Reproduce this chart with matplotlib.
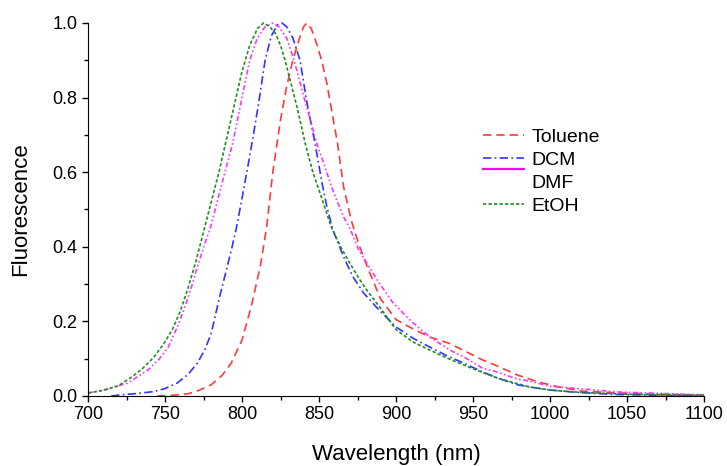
import matplotlib
matplotlib.use("Agg")
import matplotlib.pyplot as plt
from matplotlib.lines import Line2D
from matplotlib.legend_handler import HandlerLine2D
from matplotlib.ticker import MultipleLocator

plt.rcParams.update({'font.family': ['Liberation Sans', 'DejaVu Sans']})

# emission spectra (wavelength in nm, normalised intensity)
tol_x = [745, 755, 765, 772, 780, 787, 793, 800, 806, 812, 816, 820, 825, 829, 833, 837, 840, 842,
         845, 848, 851.7, 855, 862, 866, 871, 876, 881, 890, 900, 911, 922, 934, 945, 956, 966, 979,
         992, 1005, 1021, 1040, 1060, 1080, 1100]
tol_y = [0.0, 0.002, 0.006, 0.015, 0.03, 0.055, 0.088, 0.15, 0.24, 0.35, 0.453, 0.6, 0.74, 0.83, 0.9,
         0.955, 0.99, 1.0, 0.985, 0.95, 0.9, 0.84, 0.678, 0.56, 0.47, 0.405, 0.35, 0.26, 0.205, 0.18,
         0.158, 0.142, 0.12, 0.097, 0.08, 0.056, 0.038, 0.025, 0.013, 0.009, 0.006, 0.004, 0.002]

dcm_x = [715, 721, 730, 743, 750, 758, 765, 771, 776, 780, 786, 790, 793, 796.5, 800, 804, 807, 811,
         815, 819, 823, 826, 829, 833, 837.7, 842, 847.4, 852, 855, 859, 866, 872, 879, 888, 900, 911,
         922, 933, 944, 956, 966, 979, 987, 1000, 1020, 1043, 1070, 1100]
dcm_y = [0.0, 0.003, 0.006, 0.012, 0.02, 0.035, 0.058, 0.088, 0.125, 0.168, 0.275, 0.34, 0.39, 0.453,
         0.53, 0.62, 0.69, 0.79, 0.9, 0.965, 0.995, 1.0, 0.99, 0.96, 0.9, 0.79, 0.678, 0.57, 0.51,
         0.445, 0.373, 0.32, 0.276, 0.235, 0.185, 0.155, 0.131, 0.108, 0.088, 0.065, 0.048, 0.03,
         0.024, 0.016, 0.009, 0.004, 0.002, 0.001]

dmf_x = [700, 712, 726, 739, 746, 752, 758, 763, 767, 771, 776, 779.6, 787, 794, 800, 805, 810, 815,
         819.5, 824, 829, 833.8, 841, 848.5, 855, 860, 866, 870, 876, 888, 898, 910, 922, 935, 944, 956,
         966, 979, 987, 1000, 1021, 1043, 1065, 1085, 1100]
dmf_y = [0.008, 0.018, 0.035, 0.07, 0.098, 0.13, 0.185, 0.24, 0.29, 0.346, 0.41, 0.453, 0.57, 0.678,
         0.8, 0.9, 0.96, 0.99, 1.0, 0.99, 0.96, 0.9, 0.79, 0.678, 0.6, 0.54, 0.48, 0.45, 0.39, 0.31,
         0.25, 0.2, 0.158, 0.123, 0.105, 0.075, 0.064, 0.045, 0.04, 0.026, 0.019, 0.011, 0.008, 0.005,
         0.003]

etoh_x = [700, 710, 720, 728, 735, 743, 750, 755, 760, 765, 770, 775, 780, 785, 790, 795, 800, 805,
          810, 814, 818, 822, 825, 828, 832, 836, 841, 846, 851, 858, 864, 870, 876, 881, 890, 900,
          911, 922, 933, 944, 955, 966, 977, 987, 1000, 1015, 1030, 1050, 1070, 1100]
etoh_y = [0.008, 0.015, 0.028, 0.05, 0.072, 0.105, 0.145, 0.18, 0.228, 0.29, 0.36, 0.44, 0.52, 0.6,
          0.69, 0.78, 0.87, 0.94, 0.985, 1.0, 0.99, 0.97, 0.94, 0.9, 0.835, 0.77, 0.678, 0.6, 0.54,
          0.453, 0.4, 0.356, 0.315, 0.284, 0.235, 0.178, 0.145, 0.123, 0.102, 0.083, 0.065, 0.048,
          0.035, 0.024, 0.016, 0.011, 0.008, 0.005, 0.003, 0.002]

labels = ['Toluene', 'DCM', 'DMF', 'EtOH']


class ShiftedHandler(HandlerLine2D):
    # the DMF key sits a bit above its label in the original
    def create_artists(self, legend, orig_handle, xdescent, ydescent, width, height, fontsize, trans):
        return super().create_artists(legend, orig_handle, xdescent, ydescent - 17,
                                      width, height, fontsize, trans)


fig = plt.figure(figsize=(7.27, 4.66), dpi=100)
ax = fig.add_axes([88/727, 1-396/466, 616/727, 373/466])

ax.plot(tol_x, tol_y, color='#ff3a3a', lw=1.2, dashes=(5, 3), clip_on=False)
ax.plot(dcm_x, dcm_y, color='#3333ff', lw=1.2, dashes=(5, 2, 1, 2), clip_on=False)
ax.plot(dmf_x, dmf_y, color='#ff33ff', lw=1.2, dashes=(3, 1.5, 1, 1.5, 1, 1.5), clip_on=False)
ax.plot(etoh_x, etoh_y, color='#1f8f1f', lw=1.2, dashes=(2, 1.3), clip_on=False)

ax.set_xlim(700, 1100)
ax.set_ylim(0, 1.0)
ax.xaxis.set_major_locator(MultipleLocator(50))
ax.xaxis.set_minor_locator(MultipleLocator(25))
ax.yaxis.set_major_locator(MultipleLocator(0.2))
ax.yaxis.set_minor_locator(MultipleLocator(0.1))
ax.yaxis.set_major_formatter(plt.FormatStrFormatter('%.1f'))
for s in ['top', 'right']:
    ax.spines[s].set_visible(False)
ax.tick_params(which='major', direction='out', length=4, width=1, labelsize=13)
ax.tick_params(which='minor', direction='out', length=3, width=1)
ax.set_xlabel('Wavelength (nm)', fontsize=16, labelpad=15)
ax.set_ylabel('Fluorescence', fontsize=16, labelpad=15)

handles = [Line2D([], [], color='#ff3a3a', lw=1.2, dashes=(5, 3)),
           Line2D([], [], color='#3333ff', lw=1.2, dashes=(5, 2, 1, 2)),
           Line2D([], [], color='#ff00ff', lw=1.6),
           Line2D([], [], color='#1f8f1f', lw=1.2, dashes=(2, 1.3))]
leg = fig.legend(handles, labels, loc='upper left', bbox_to_anchor=(483/727, 1-128/466),
                 frameon=False, fontsize=14, borderpad=0, borderaxespad=0, labelspacing=0.28,
                 handlelength=2.1, handletextpad=0.4,
                 handler_map={handles[2]: ShiftedHandler()})

fig.savefig('out.png', dpi=100)
